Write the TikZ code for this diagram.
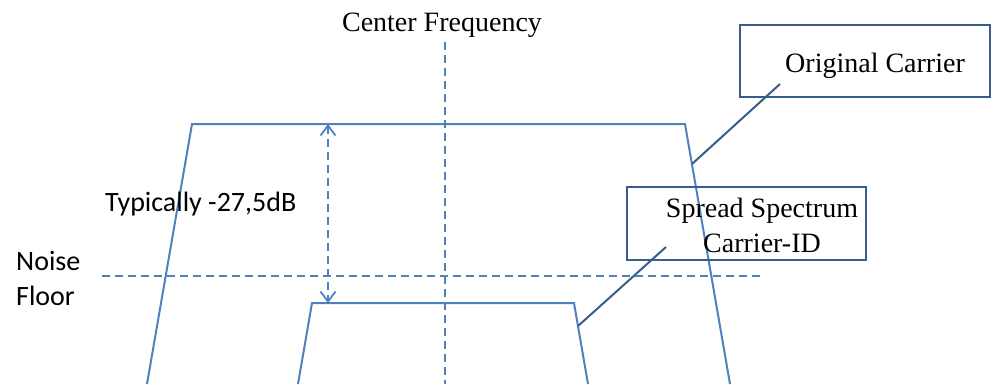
\documentclass[tikz,border=0pt]{standalone}
\usepackage{fontspec}
\setmainfont{Liberation Serif}
\newfontfamily\calib{Carlito}
\usetikzlibrary{arrows.meta}
\definecolor{specblue}{HTML}{4F81BD}
\definecolor{boxblue}{HTML}{385D8A}
\tikzset{
  spec/.style={draw=specblue, line width=2pt, line join=miter},
  guide/.style={draw=specblue, line width=1.6pt, dash pattern=on 8pt off 5pt},
  callout/.style={draw=boxblue, line width=2pt},
  labelbox/.style={draw=boxblue, line width=1.6pt, inner sep=0pt},
  serif/.style={font=\fontsize{28}{35}\selectfont, inner sep=0pt},
  sans/.style={font=\calib\fontsize{28}{35}\selectfont, inner sep=0pt},
  barb/.tip={Straight Barb[length=10pt,width=15pt,line width=1.8pt]},
}
\begin{document}
\begin{tikzpicture}[x=1pt, y=-1pt]
\useasboundingbox (0,0) rectangle (993,384);

% center frequency marker
\node[serif, anchor=base] (cf) at (442,31) {Center Frequency};
\coordinate (cftop) at (445,42);
\coordinate (cfbot) at (445,384);
\draw[guide] (cftop) -- (cfbot);

% noise floor (base anchor sits on the last line)
\node[sans, anchor=base west, align=left] (nf) at (16,305) {Noise\\Floor};
\coordinate (nfl) at (102,276);
\coordinate (nfr) at (760,276);
\draw[guide] (nfl) -- (nfr);

% original carrier spectrum
\coordinate (ocbl) at (147,384);
\coordinate (octl) at (192,124);
\coordinate (octr) at (685,124);
\coordinate (ocbr) at (730,384);
\draw[spec] (ocbl) -- (octl) -- (octr) -- (ocbr);

% spread spectrum carrier-ID
\coordinate (ssbl) at (298,384);
\coordinate (sstl) at (312,303);
\coordinate (sstr) at (574,303);
\coordinate (ssbr) at (588,384);
\draw[spec] (ssbl) -- (sstl) -- (sstr) -- (ssbr);

% level difference
\coordinate (lvtop) at (328,124);
\coordinate (lvbot) at (328,303);
\draw[guide, barb-barb] (lvtop) -- (lvbot);
\node[sans, anchor=base west] (lv) at (105,211) {Typically -27,5dB};

% label boxes with callouts
\node[labelbox, minimum width=250pt, minimum height=72pt] (ocbox) at (865,61) {};
\node[serif, anchor=base] (octxt) at (875,72) {Original Carrier};
\coordinate (ocfrom) at (780,84);
\coordinate (octo) at (692,164);
\draw[callout] (ocfrom) -- (octo);

\node[labelbox, minimum width=239pt, minimum height=73pt] (ssbox) at (746.5,223.5) {};
\node[serif, anchor=base, align=center] (sstxt) at (762,252) {Spread Spectrum\\Carrier-ID};
\coordinate (ssfrom) at (666,247);
\coordinate (ssto) at (578,326);
\draw[callout] (ssfrom) -- (ssto);
\end{tikzpicture}
\end{document}
